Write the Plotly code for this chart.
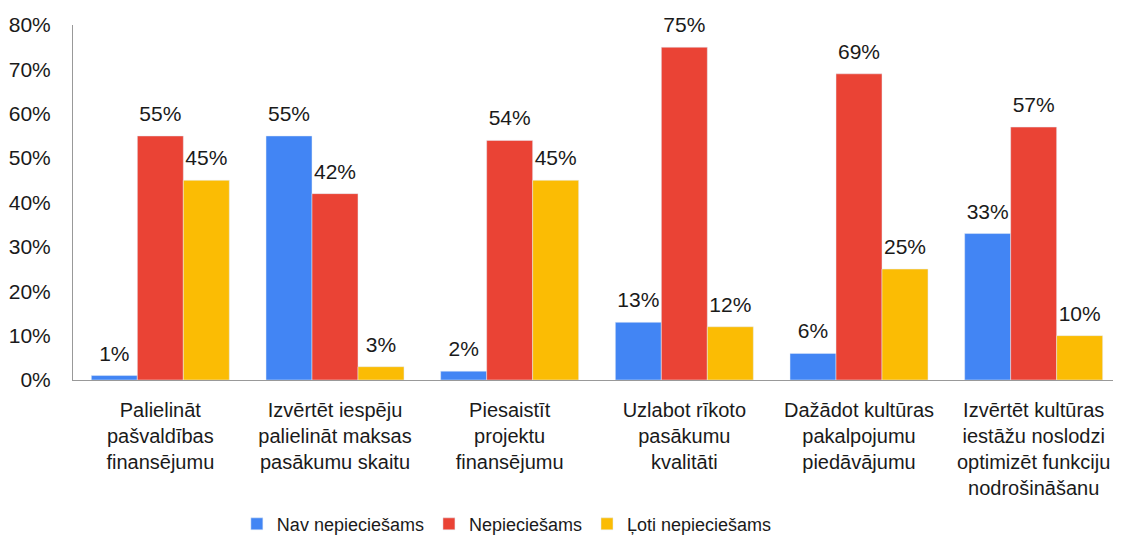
import plotly.graph_objects as go

categories = [
    "Palielināt<br>pašvaldības<br>finansējumu",
    "Izvērtēt iespēju<br>palielināt maksas<br>pasākumu skaitu",
    "Piesaistīt<br>projektu<br>finansējumu",
    "Uzlabot rīkoto<br>pasākumu<br>kvalitāti",
    "Dažādot kultūras<br>pakalpojumu<br>piedāvājumu",
    "Izvērtēt kultūras<br>iestāžu noslodzi<br>optimizēt funkciju<br>nodrošināšanu",
]
nav = [1, 55, 2, 13, 6, 33]
nepieciesams = [55, 42, 54, 75, 69, 57]
loti = [45, 3, 45, 12, 25, 10]

series = [
    ("Nav nepieciešams", nav, "#4285F4"),
    ("Nepieciešams", nepieciesams, "#EA4335"),
    ("Ļoti nepieciešams", loti, "#FBBC04"),
]

font = "Liberation Sans, Arial, sans-serif"
txt = "#1a1a1a"
fig = go.Figure()
for i, (name, vals, color) in enumerate(series):
    fig.add_trace(go.Bar(
        name=name, x=categories, y=vals, marker_color=color,
        offsetgroup=str(i), alignmentgroup="g",
    ))
for i, (name, vals, color) in enumerate(series):
    fig.add_trace(go.Scatter(
        x=categories, y=vals, mode="markers+text", showlegend=False,
        offsetgroup=str(i), alignmentgroup="g",
        marker=dict(size=14, opacity=0), hoverinfo="skip",
        text=[f"{v}%" for v in vals], textposition="top center",
        textfont=dict(size=21, color=txt), cliponaxis=False,
    ))

fig.update_layout(
    width=1113, height=535,
    margin=dict(l=65, r=0, t=17, b=161),
    paper_bgcolor="white", plot_bgcolor="white",
    font=dict(family=font, size=21, color=txt),
    barmode="group", bargap=0.21, bargroupgap=0,
    scattermode="group", scattergap=0.21,
    showlegend=True,
    legend=dict(orientation="h", x=0.414, xanchor="center", y=-0.406, yanchor="middle",
                font=dict(size=18), itemwidth=30, traceorder="normal"),
    xaxis=dict(showline=True, linecolor="#999", linewidth=1, ticks="",
               tickfont=dict(size=20), tickangle=0, automargin=False,
               ticklabelstandoff=12),
    yaxis=dict(range=[0, 80], dtick=10, ticksuffix="%", showgrid=False,
               showline=True, linecolor="#999", linewidth=1, ticks="",
               zeroline=False, tickfont=dict(size=21), ticklabelstandoff=17,
               automargin=False),
)
fig.write_html("out.html")
